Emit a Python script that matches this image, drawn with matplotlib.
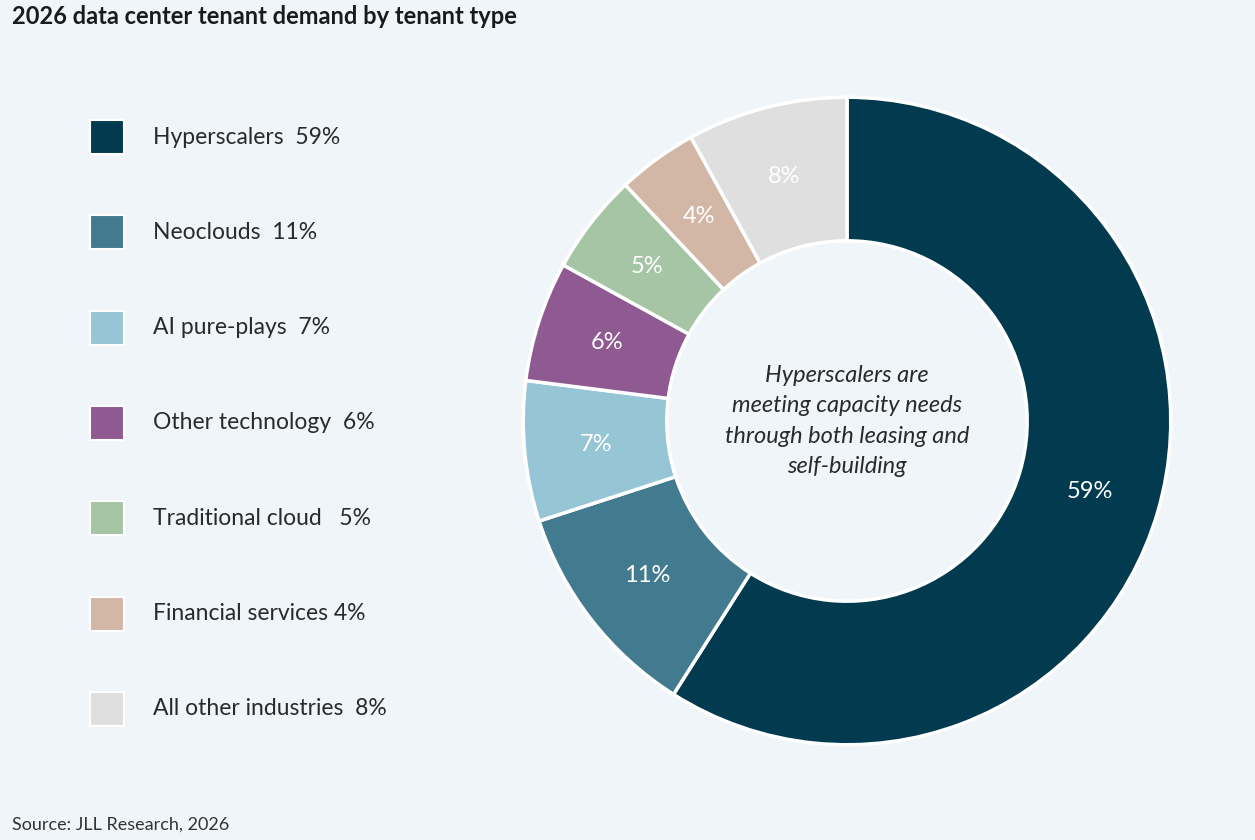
import matplotlib.pyplot as plt
from matplotlib.patches import Rectangle

# Data
categories = ["Hyperscalers", "Neoclouds", "AI pure-plays", "Other technology",
              "Traditional cloud", "Financial services", "All other industries"]
shares = [59, 11, 7, 6, 5, 4, 8]
legend_gaps = ["  ", "  ", "  ", "  ", "   ", " ", "  "]
colors = ["#023B4F", "#427B8F", "#96C6D6", "#8F5A92", "#A5C5A5", "#D3B7A6", "#E0DFDF"]

BG = "#EFF5F8"
FONT = "Lato"

fig = plt.figure(figsize=(12.55, 8.4), dpi=100, facecolor=BG)

# Title and source
fig.text(12 / 1255, 1 - 16 / 840, "2026 data center tenant demand by tenant type",
         fontsize=17, fontweight="bold", family=FONT, color="#1a1a1a", va="center")
fig.text(12 / 1255, 1 - 825 / 840, "Source: JLL Research, 2026",
         fontsize=13, family=FONT, color="#333333", va="center")

# Legend
for i, (cat, val, gap, col) in enumerate(zip(categories, shares, legend_gaps, colors)):
    yc = 137 + i * 95.3
    fig.patches.append(Rectangle((90 / 1255, 1 - (yc + 17) / 840), 34 / 1255, 34 / 840,
                                 transform=fig.transFigure, facecolor=col,
                                 edgecolor="white", linewidth=1.5))
    fig.text(153 / 1255, 1 - yc / 840, f"{cat}{gap}{val}%", fontsize=16.5,
             family=FONT, color="#2a2a2a", va="center")

# Donut
R = 327
ax = fig.add_axes([(847 - R) / 1255, (840 - 421 - R) / 840, 2 * R / 1255, 2 * R / 840])
ax.set_facecolor(BG)
wedges, texts = ax.pie(shares, colors=colors, startangle=90, counterclock=False,
                       radius=1, wedgeprops=dict(width=1 - 182 / 327, edgecolor="white",
                                                  linewidth=2.5),
                       labels=[f"{v}%" for v in shares], labeldistance=0.78)
for t in texts:
    t.set_color("white")
    t.set_fontsize(17)
    t.set_family(FONT)
    t.set_ha("center")
    t.set_va("center")
ax.set_xlim(-1.01, 1.01)
ax.set_ylim(-1.01, 1.01)
ax.text(0, 0, "Hyperscalers are\nmeeting capacity needs\nthrough both leasing and\nself-building",
        ha="center", va="center", fontsize=17, style="italic", family=FONT,
        color="#2a2a2a", linespacing=1.55)

fig.savefig("out.png", dpi=100, facecolor=BG)
